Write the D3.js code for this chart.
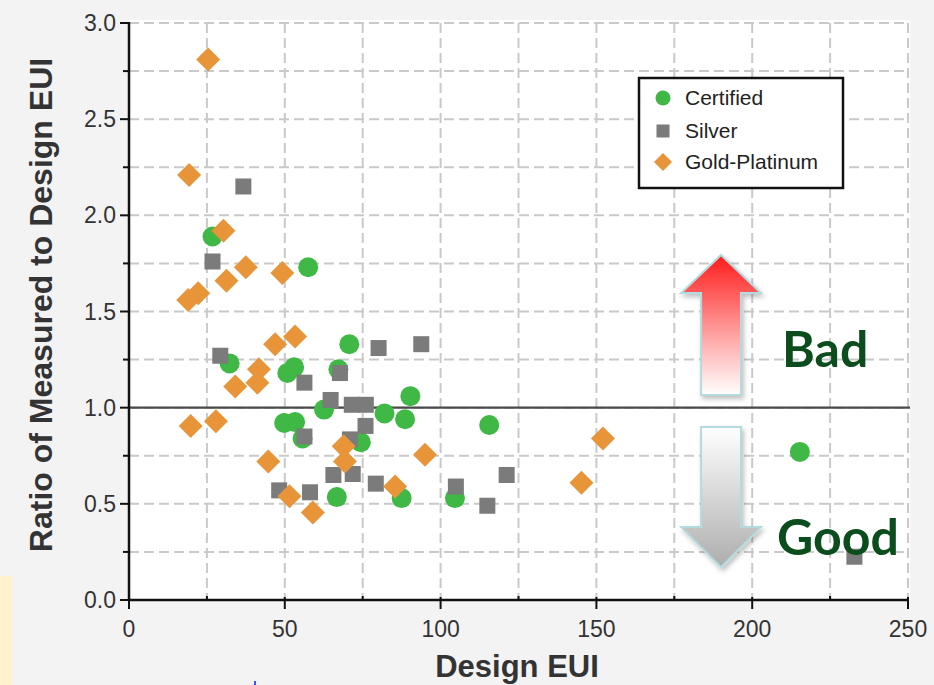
<!DOCTYPE html>
<html><head><meta charset="utf-8">
<script src="https://cdn.jsdelivr.net/npm/d3@7"></script>
<style>html,body{margin:0;padding:0;background:#f3f3f3;}svg{display:block;}</style>
</head><body>
<svg id="chart" width="934" height="685"></svg>
<script>
// ---- data ----
const seriesNames = ["Certified", "Silver", "Gold-Platinum"];
const certified = [[26.8,1.89],[57.5,1.73],[70.7,1.33],[32.3,1.23],[50.8,1.18],[53.0,1.21],[67.2,1.20],[62.6,0.99],[82.0,0.97],[90.3,1.06],[88.6,0.94],[49.8,0.92],[53.3,0.925],[55.7,0.84],[74.4,0.82],[66.7,0.535],[87.5,0.53],[104.6,0.53],[115.6,0.91],[215.3,0.77]];
const silver = [[36.7,2.15],[26.8,1.76],[29.3,1.27],[56.3,1.13],[67.7,1.18],[80.1,1.31],[93.8,1.33],[64.7,1.04],[71.5,1.015],[76.0,1.015],[56.3,0.85],[70.9,0.835],[75.9,0.905],[65.6,0.65],[71.8,0.655],[79.2,0.605],[48.2,0.57],[58.1,0.56],[104.9,0.59],[115.0,0.49],[121.2,0.65],[232.8,0.225]];
const goldPlatinum = [[25.4,2.81],[19.3,2.21],[30.3,1.92],[37.5,1.73],[31.3,1.66],[19.0,1.56],[22.2,1.595],[49.2,1.70],[46.9,1.33],[53.3,1.37],[41.7,1.20],[41.2,1.13],[34.1,1.11],[19.8,0.905],[27.9,0.93],[44.7,0.72],[51.5,0.54],[59.0,0.455],[68.9,0.80],[69.3,0.72],[85.4,0.59],[95.0,0.755],[145.2,0.61],[152.1,0.84]];
const xTicks = [0,50,100,150,200,250];
const yTicks = [0.0,0.5,1.0,1.5,2.0,2.5,3.0];
const xTitle = "Design EUI";
const yTitle = "Ratio of Measured to Design EUI";
const referenceRatio = 1.0;
const annotations = ["Bad", "Good"];

// ---- layout ----
const svg = d3.select("#chart");
const L = 129, R = 908, T = 23, B = 600;
const x = d3.scaleLinear().domain([0,250]).range([L,R]);
const y = d3.scaleLinear().domain([0,3]).range([B,T]);
const colors = {"Certified":"#3fb845","Silver":"#7b7b7b","Gold-Platinum":"#e8953a"};

// plot background
svg.append("rect").attr("x",L).attr("y",T-3).attr("width",R-L+2).attr("height",B-T+3).attr("fill","#ffffff");
// small pale yellow strip bottom-left
svg.append("rect").attr("x",0).attr("y",576).attr("width",12).attr("height",109).attr("fill","#fff2cc");
svg.append("rect").attr("x",254).attr("y",681).attr("width",2).attr("height",4).attr("fill","#3355ff");

// grid
const grid = svg.append("g").attr("stroke","#c9c9c9").attr("stroke-width",2).attr("stroke-dasharray","10,5");
d3.range(0.25,3.001,0.25).forEach(v=>{
  grid.append("line").attr("x1",L).attr("x2",R).attr("y1",y(v)).attr("y2",y(v));
});
d3.range(25,250.01,25).forEach(v=>{
  grid.append("line").attr("x1",x(v)).attr("x2",x(v)).attr("y1",T).attr("y2",B);
});

// reference line at 1.0
svg.append("line").attr("x1",L).attr("x2",R+2).attr("y1",y(referenceRatio)).attr("y2",y(referenceRatio))
  .attr("stroke","#4a4a4a").attr("stroke-width",2.2);

// axes
const axG = svg.append("g").attr("stroke","#111").attr("stroke-width",2.5);
axG.append("line").attr("x1",L).attr("x2",L).attr("y1",T-1).attr("y2",B+1);
axG.append("line").attr("x1",L-1).attr("x2",R+1).attr("y1",B).attr("y2",B);
d3.range(0,3.001,0.25).forEach(v=>{
  const major = Math.abs(v*2-Math.round(v*2))<1e-6;
  axG.append("line").attr("x1",L-(major?9:6)).attr("x2",L).attr("y1",y(v)).attr("y2",y(v)).attr("stroke-width",2);
});
d3.range(0,250.01,25).forEach(v=>{
  const major = v%50===0;
  axG.append("line").attr("x1",x(v)).attr("x2",x(v)).attr("y1",B-(major?3:4)).attr("y2",B+(major?9:0)).attr("stroke-width",2);
});

// tick labels
const tf = "'Liberation Sans', Arial, sans-serif";
svg.append("g").selectAll("text").data(yTicks).join("text")
  .attr("x",L-13).attr("y",d=>y(d)+8).attr("text-anchor","end")
  .attr("font-family",tf).attr("font-size",23).attr("fill","#333")
  .text(d=>d.toFixed(1));
svg.append("g").selectAll("text").data(xTicks).join("text")
  .attr("x",d=>x(d)).attr("y",637).attr("text-anchor","middle")
  .attr("font-family",tf).attr("font-size",23).attr("fill","#333")
  .text(d=>d);

// titles
svg.append("text").attr("x",517).attr("y",677).attr("text-anchor","middle")
  .attr("font-family",tf).attr("font-weight","bold").attr("font-size",31).attr("fill","#333").text(xTitle);
svg.append("text").attr("transform","translate(52,305) rotate(-90)").attr("text-anchor","middle")
  .attr("font-family",tf).attr("font-weight","bold").attr("font-size",32).attr("fill","#333").text(yTitle);

// arrows
const defs = svg.append("defs");
const gUp = defs.append("linearGradient").attr("id","gUp").attr("x1",0).attr("y1",0).attr("x2",0).attr("y2",1);
gUp.append("stop").attr("offset","0%").attr("stop-color","#ff1a1a");
gUp.append("stop").attr("offset","55%").attr("stop-color","#ff9d9d");
gUp.append("stop").attr("offset","100%").attr("stop-color","#ffffff");
const gDn = defs.append("linearGradient").attr("id","gDn").attr("x1",0).attr("y1",0).attr("x2",0).attr("y2",1);
gDn.append("stop").attr("offset","0%").attr("stop-color","#ffffff");
gDn.append("stop").attr("offset","100%").attr("stop-color","#adadad");
const sh = defs.append("filter").attr("id","sh").attr("x","-30%").attr("y","-30%").attr("width","160%").attr("height","160%");
sh.append("feDropShadow").attr("dx",2).attr("dy",3).attr("stdDeviation",2.5).attr("flood-color","#000").attr("flood-opacity",0.25);

const ax0 = 190, shaftHalf = 6.4, headHalf = 12.8;
function upArrow(tip, wing, bottom){
  return `M${x(ax0)},${y(tip)} L${x(ax0+headHalf)},${y(wing)} L${x(ax0+shaftHalf)},${y(wing)} L${x(ax0+shaftHalf)},${y(bottom)} L${x(ax0-shaftHalf)},${y(bottom)} L${x(ax0-shaftHalf)},${y(wing)} L${x(ax0-headHalf)},${y(wing)} Z`;
}
function downArrow(top, wing, tip){
  return `M${x(ax0-shaftHalf)},${y(top)} L${x(ax0+shaftHalf)},${y(top)} L${x(ax0+shaftHalf)},${y(wing)} L${x(ax0+headHalf)},${y(wing)} L${x(ax0)},${y(tip)} L${x(ax0-headHalf)},${y(wing)} L${x(ax0-shaftHalf)},${y(wing)} Z`;
}
svg.append("path").attr("d",upArrow(1.794,1.596,1.066)).attr("fill","url(#gUp)")
  .attr("stroke","#b3dadd").attr("stroke-width",2).attr("filter","url(#sh)");
svg.append("path").attr("d",downArrow(0.90,0.38,0.17)).attr("fill","url(#gDn)")
  .attr("stroke","#b3dadd").attr("stroke-width",2).attr("filter","url(#sh)");

// markers: green, then grey, then orange
const mk = svg.append("g");
mk.selectAll("circle.c").data(certified).join("circle").attr("class","c")
  .attr("cx",d=>x(d[0])).attr("cy",d=>y(d[1])).attr("r",10).attr("fill",colors["Certified"]);
mk.selectAll("rect.s").data(silver).join("rect").attr("class","s")
  .attr("x",d=>x(d[0])-8).attr("y",d=>y(d[1])-8).attr("width",16).attr("height",16).attr("fill",colors["Silver"]);
const dia = 12;
mk.selectAll("path.g").data(goldPlatinum).join("path").attr("class","g")
  .attr("d",d=>{const cx=x(d[0]),cy=y(d[1]);return `M${cx},${cy-dia} L${cx+dia},${cy} L${cx},${cy+dia} L${cx-dia},${cy} Z`;})
  .attr("fill",colors["Gold-Platinum"]);

// Bad / Good labels
const af = "Lato, 'Open Sans', sans-serif";
svg.append("text").attr("x",782).attr("y",367).attr("font-family",af).attr("font-weight","bold")
  .attr("font-size",50).attr("fill","#0b4d1c").text(annotations[0]);
svg.append("text").attr("x",777).attr("y",555).attr("font-family",af).attr("font-weight","bold")
  .attr("font-size",50).attr("fill","#0b4d1c").text(annotations[1]);

// legend
const lg = svg.append("g");
lg.append("rect").attr("x",639).attr("y",78).attr("width",204).attr("height",110)
  .attr("fill","#fff").attr("stroke","#111").attr("stroke-width",2.5);
const rows = [98,131,162];
seriesNames.forEach((n,i)=>{
  const cy = rows[i], cx = 663;
  if(i===0) lg.append("circle").attr("cx",cx).attr("cy",cy).attr("r",7.5).attr("fill",colors[n]);
  if(i===1) lg.append("rect").attr("x",cx-6.5).attr("y",cy-6.5).attr("width",13).attr("height",13).attr("fill",colors[n]);
  if(i===2) lg.append("path").attr("d",`M${cx},${cy-9} L${cx+9},${cy} L${cx},${cy+9} L${cx-9},${cy} Z`).attr("fill",colors[n]);
  lg.append("text").attr("x",685).attr("y",cy+7).attr("font-family",tf).attr("font-size",21)
    .attr("fill","#222").text(n);
});
</script>
</body></html>
